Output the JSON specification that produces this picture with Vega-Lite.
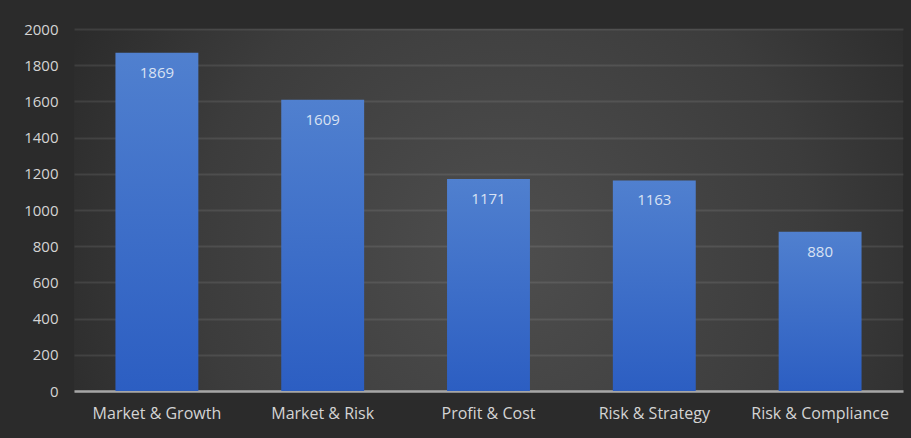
{
  "$schema": "https://vega.github.io/schema/vega-lite/v6.json",
  "width": 829,
  "height": 362,
  "autosize": {"type": "none"},
  "padding": {"left": 74, "top": 29, "right": 8, "bottom": 47},
  "background": "#2b2b2b",
  "config": {
    "view": {
      "stroke": null,
      "fill": {
        "gradient": "radial",
        "x1": 0.52, "y1": 0.55, "r1": 0,
        "x2": 0.52, "y2": 0.55, "r2": 0.62,
        "stops": [
          {"offset": 0, "color": "#4e4e4e"},
          {"offset": 0.6, "color": "#3c3c3c"},
          {"offset": 1, "color": "#282828"}
        ]
      }
    },
    "font": "Open Sans"
  },
  "data": {
    "values": [
      {"category": "Market & Growth", "value": 1869},
      {"category": "Market & Risk", "value": 1609},
      {"category": "Profit & Cost", "value": 1171},
      {"category": "Risk & Strategy", "value": 1163},
      {"category": "Risk & Compliance", "value": 880}
    ]
  },
  "encoding": {
    "x": {
      "field": "category",
      "type": "nominal",
      "sort": null,
      "scale": {"paddingInner": 0.5, "paddingOuter": 0.25},
      "axis": {
        "title": null,
        "labelAngle": 0,
        "labelColor": "#d4d4d4",
        "labelFontSize": 16,
        "labelPadding": 14,
        "ticks": false,
        "domainColor": "#a6a6a6",
        "domainWidth": 2.5,
        "grid": false
      }
    },
    "y": {
      "field": "value",
      "type": "quantitative",
      "scale": {"domain": [0, 2000], "nice": false},
      "axis": {
        "title": null,
        "format": "d",
        "values": [0, 200, 400, 600, 800, 1000, 1200, 1400, 1600, 1800, 2000],
        "labelColor": "#d4d4d4",
        "labelFontSize": 15,
        "labelPadding": 16,
        "ticks": false,
        "domain": false,
        "gridColor": "#ffffff",
        "gridOpacity": 0.09,
        "gridWidth": 2
      }
    }
  },
  "layer": [
    {
      "mark": {
        "type": "bar",
        "color": {
          "gradient": "linear",
          "x1": 0, "y1": 0, "x2": 0, "y2": 1,
          "stops": [
            {"offset": 0, "color": "#5080cf"},
            {"offset": 1, "color": "#2c5ec2"}
          ]
        }
      }
    },
    {
      "mark": {
        "type": "text",
        "baseline": "middle",
        "dy": 20,
        "fontSize": 15,
        "color": "#d9e2f3"
      },
      "encoding": {"text": {"field": "value", "type": "quantitative", "format": "d"}}
    }
  ]
}
